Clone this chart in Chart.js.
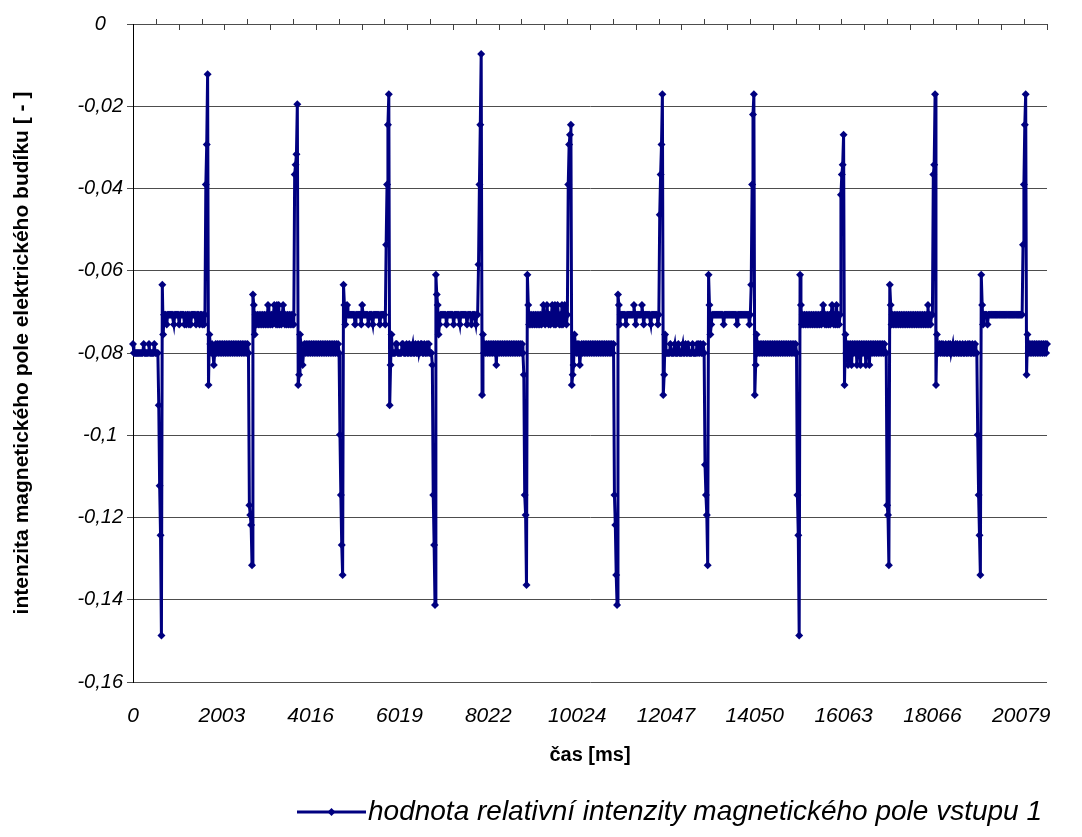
<!DOCTYPE html>
<html>
<head>
<meta charset="utf-8">
<title>Intenzita magnetického pole</title>
<script src="https://cdn.jsdelivr.net/npm/chart.js@4.4.0/dist/chart.umd.min.js"></script>
<style>
  html, body { margin: 0; padding: 0; background: #fff; }
  #wrap { width: 1082px; height: 837px; }
</style>
</head>
<body>
<div id="wrap"><canvas id="magChart"></canvas></div>
<script>
// Popisky osy x (čas v ms), jeden popisek na každých 100 vzorků
const tickLabels = ['0', '2003', '4016', '6019', '8022', '10024', '12047', '14050', '16063', '18066', '20079'];
const LABEL_STEP = 100;

// Popisky osy y
const yTickLabels = ['0', '-0,02', '-0,04', '-0,06', '-0,08', '-0,1', '-0,12', '-0,14', '-0,16'];

const seriesLabel = 'hodnota relativní intenzity magnetického pole vstupu 1';

// Hodnoty relativní intenzity (1030 vzorků)
const intensity = [
  -.0778,-.08,-.08,-.08,-.08,-.08,-.08,-.08,-.08,-.08,
  -.08,-.08,-.0778,-.08,-.08,-.08,-.08,-.08,-.0778,-.08,
  -.08,-.08,-.08,-.08,-.0778,-.08,-.08,-.08,-.08,
  -.0927,-.1123,-.1243,-.1487,-.0634,-.0755,-.0707,
  -.0707,-.0707,-.0731,-.0707,-.0707,-.0707,-.0707,-.0707,-.0707,-.0707,
  -.0731,-.0707,-.0707,-.0707,-.0707,-.0707,-.0731,-.0707,-.0707,-.0707,
  -.0707,-.0707,-.0731,-.0707,-.0731,-.0707,-.0707,-.0731,-.0707,-.0731,
  -.0707,-.0707,-.0707,-.0707,-.0707,-.0731,-.0707,-.0707,-.0707,-.0731,
  -.0707,-.0707,-.0731,-.0707,-.0731,-.0707,
  -.039,-.0293,-.0122,-.0878,-.0755,-.0778,-.08,
  -.0778,-.08,-.0829,-.08,
  -.0778,-.08,-.0778,-.08,-.0778,-.08,-.0778,-.08,-.0778,-.08,
  -.0778,-.08,-.0778,-.08,-.0778,-.08,-.0778,-.08,-.0778,-.08,
  -.0778,-.08,-.0778,-.08,-.0778,-.08,-.0778,-.08,-.0778,-.08,
  -.0778,-.08,-.0778,-.08,-.0778,-.08,-.0778,-.08,
  -.117,-.1194,-.1218,-.1316,-.0658,-.0683,-.0755,
  -.0707,-.0731,-.0707,-.0731,-.0707,-.0731,-.0707,-.0731,-.0707,-.0731,
  -.0707,-.0731,-.0707,-.0731,-.0683,-.0731,-.0707,-.0731,-.0707,-.0731,
  -.0707,-.0683,-.0707,-.0731,-.0683,-.0731,-.0683,-.0731,-.0707,-.0731,
  -.0707,-.0683,-.0707,-.0731,-.0707,-.0731,-.0707,-.0731,-.0707,-.0731,
  -.0707,-.0731,-.0707,-.0731,
  -.0366,-.0342,-.0317,-.0195,-.0878,-.0853,-.0755,-.0778,-.08,-.0829,
  -.08,-.0778,-.08,-.0778,-.08,-.0778,-.08,-.0778,-.08,-.0778,
  -.08,-.0778,-.08,-.0778,-.08,-.0778,-.08,-.0778,-.08,-.0778,
  -.08,-.0778,-.08,-.0778,-.08,-.0778,-.08,-.0778,-.08,-.0778,
  -.08,-.0778,-.08,-.0778,-.08,-.0778,-.08,-.0778,-.08,-.0778,
  -.08,
  -.0999,-.1145,-.1267,-.134,
  -.0634,-.0683,-.0731,-.0707,-.0683,-.0707,-.0707,-.0707,-.0707,-.0707,
  -.0707,-.0707,-.0707,-.0731,-.0707,-.0707,-.0707,-.0707,-.0707,-.0707,
  -.0731,-.0683,-.0707,-.0707,-.0707,-.0707,-.0707,-.0707,-.0731,-.0707,
  -.0707,-.0707,-.0707,-.0731,-.0707,-.0707,-.0707,-.0707,-.0707,-.0707,
  -.0707,-.0731,-.0707,-.0707,-.0707,-.0707,-.0707,-.0731,
  -.0537,-.039,-.0245,-.0171,-.0927,-.0829,-.0755,-.08,
  -.08,-.08,-.08,-.0778,-.0778,-.08,-.08,-.08,-.08,-.08,
  -.0778,-.0778,-.08,-.08,-.08,-.0778,-.08,-.08,-.0778,-.08,
  -.08,-.08,-.0778,-.08,-.08,-.0778,-.08,-.08,-.0778,-.08,
  -.08,-.0778,-.0778,-.08,-.08,-.0778,-.08,-.08,-.0778,-.08,
  -.0778,-.08,-.08,-.08,
  -.0829,-.1145,-.1267,-.1413,-.061,-.0658,-.0683,-.0755,-.0731,-.0707,
  -.0707,-.0707,-.0707,-.0707,-.0707,-.0707,-.0731,-.0707,-.0707,-.0707,
  -.0707,-.0707,-.0707,-.0707,-.0731,-.0707,-.0707,-.0707,-.0707,-.0707,
  -.0707,-.0731,-.0707,-.0707,-.0707,-.0707,-.0707,-.0707,-.0707,-.0731,
  -.0707,-.0707,-.0707,-.0707,-.0731,-.0707,-.0707,-.0707,-.0707,-.0731,
  -.0707,-.0707,
  -.0585,-.039,-.0245,-.0073,-.0902,-.0755,-.08,
  -.0778,-.08,-.0778,-.08,-.0778,-.08,-.0778,-.08,-.0778,-.08,
  -.0778,-.08,-.0778,-.0829,-.0778,-.08,-.0778,-.08,-.0778,-.08,
  -.0778,-.08,-.0778,-.08,-.0778,-.08,-.0778,-.08,-.0778,-.08,
  -.0778,-.08,-.0778,-.08,-.0778,-.08,-.0778,-.08,-.0778,-.08,
  -.0778,-.08,-.0778,-.08,
  -.0853,-.1145,-.1194,-.1364,-.061,-.0683,-.0731,-.0707,
  -.0731,-.0707,-.0731,-.0707,-.0731,-.0707,-.0731,-.0707,-.0731,-.0707,
  -.0731,-.0707,-.0731,-.0707,-.0683,-.0707,-.0731,-.0707,-.0683,-.0707,
  -.0731,-.0707,-.0731,-.0707,-.0683,-.0707,-.0731,-.0683,-.0731,-.0707,
  -.0683,-.0707,-.0731,-.0707,-.0731,-.0683,-.0731,-.0707,-.0683,-.0707,
  -.0731,-.0707,
  -.039,-.0293,-.0269,-.0245,-.0878,-.0853,-.0829,-.0755,-.0778,-.08,
  -.0778,-.08,-.0778,-.0829,
  -.08,-.0778,-.08,-.0778,-.08,-.0778,-.08,-.0778,-.08,-.0778,
  -.08,-.0778,-.08,-.0778,-.08,-.0778,-.08,-.0778,-.08,-.0778,
  -.08,-.0778,-.08,-.0778,-.08,-.0778,-.08,-.0778,-.08,-.0778,
  -.08,-.0778,-.08,-.0778,-.08,-.0778,-.08,-.0778,
  -.1145,-.1218,-.134,-.1413,-.0658,-.0683,-.0731,-.0707,
  -.0707,-.0707,-.0707,-.0707,-.0707,-.0731,-.0707,-.0707,-.0707,-.0707,
  -.0707,-.0707,-.0707,-.0707,-.0683,-.0707,-.0731,-.0707,-.0707,-.0707,
  -.0707,-.0707,-.0707,-.0683,-.0707,-.0731,-.0707,-.0707,-.0707,-.0707,
  -.0707,-.0707,-.0707,-.0731,-.0707,-.0707,-.0707,-.0707,-.0707,-.0707,
  -.0707,-.0731,-.0707,
  -.0464,-.0366,-.0293,-.0171,-.0902,-.0853,-.0755,-.08,
  -.08,-.08,-.08,-.08,-.0778,-.08,-.08,-.08,-.08,-.0778,
  -.08,-.08,-.08,-.0778,-.08,-.08,-.08,-.08,-.0778,-.08,
  -.08,-.0778,-.08,-.08,-.0778,-.08,-.08,-.08,-.08,-.0778,
  -.08,-.08,-.08,-.08,-.0778,-.08,-.0778,-.08,-.0778,-.08,
  -.08,-.0778,-.08,
  -.1072,-.1145,-.1194,-.1316,-.061,-.0683,-.0755,-.0731,-.0707,
  -.0707,-.0707,-.0707,-.0707,-.0707,-.0707,-.0707,-.0707,-.0707,-.0707,
  -.0707,-.0707,-.0731,-.0707,-.0707,-.0707,-.0707,-.0707,-.0707,-.0707,
  -.0707,-.0707,-.0707,-.0707,-.0707,-.0707,-.0707,-.0731,-.0707,-.0707,
  -.0707,-.0707,-.0707,-.0707,-.0707,-.0707,-.0707,-.0707,-.0707,-.0707,
  -.0707,-.0731,-.0707,
  -.0634,-.039,-.022,-.0171,-.0902,-.0829,-.0755,-.08,
  -.0778,-.08,-.0778,-.08,-.0778,-.08,-.0778,-.08,-.0778,-.08,
  -.0778,-.08,-.0778,-.08,-.0778,-.08,-.0778,-.08,-.0778,-.08,
  -.0778,-.08,-.0778,-.08,-.0778,-.08,-.0778,-.08,-.0778,-.08,
  -.0778,-.08,-.0778,-.08,-.0778,-.08,-.0778,-.08,-.0778,-.08,
  -.0778,-.08,-.0778,-.08,
  -.1145,-.1243,-.1487,-.061,-.0683,-.0731,-.0707,
  -.0731,-.0707,-.0731,-.0707,-.0731,-.0707,-.0731,-.0707,-.0731,-.0707,
  -.0731,-.0707,-.0731,-.0707,-.0731,-.0707,-.0731,-.0707,-.0731,-.0707,
  -.0731,-.0707,-.0683,-.0707,-.0731,-.0707,-.0731,-.0707,-.0731,-.0707,
  -.0731,-.0707,-.0683,-.0707,-.0731,-.0707,-.0731,-.0683,-.0731,-.0707,
  -.0731,-.0707,
  -.0415,-.0366,-.0342,-.0269,-.0878,-.0755,-.08,
  -.0778,-.0829,-.0778,-.08,-.0778,-.0829,-.0778,-.08,-.0778,-.08,
  -.0778,-.0829,-.0778,-.08,-.0778,-.0829,-.0778,-.08,-.0778,-.08,
  -.0778,-.0829,-.0778,-.08,-.0778,-.0829,-.0778,-.08,-.0778,-.08,
  -.0778,-.08,-.0778,-.08,-.0778,-.08,-.0778,-.08,-.0778,-.08,
  -.0778,-.08,-.0778,-.08,-.08,
  -.117,-.1194,-.1316,-.0634,-.0683,-.0731,-.0707,
  -.0731,-.0707,-.0731,-.0707,-.0731,-.0707,-.0731,-.0707,-.0731,-.0707,
  -.0731,-.0707,-.0731,-.0707,-.0731,-.0707,-.0731,-.0707,-.0731,-.0707,
  -.0731,-.0707,-.0731,-.0707,-.0731,-.0707,-.0731,-.0707,-.0731,-.0707,
  -.0731,-.0707,-.0731,-.0707,-.0731,-.0707,-.0731,-.0707,-.0731,-.0683,
  -.0731,-.0707,-.0731,-.0707,
  -.0707,-.0366,-.0342,-.0171,-.0878,-.0755,-.08,
  -.08,-.0778,-.08,-.0778,-.08,-.0778,-.08,-.08,-.0778,-.08,
  -.08,-.0778,-.08,-.0778,-.08,-.08,-.0778,-.08,-.08,-.0778,
  -.08,-.0778,-.08,-.08,-.0778,-.08,-.08,-.0778,-.08,-.08,
  -.0778,-.08,-.08,-.0778,-.08,-.0778,-.08,-.08,-.0778,-.08,
  -.08,-.0778,-.08,-.08,
  -.0999,-.1145,-.1243,-.134,-.061,-.0683,-.0731,-.0707,
  -.0707,-.0707,-.0707,-.0731,-.0707,-.0707,-.0707,-.0707,-.0707,-.0707,
  -.0707,-.0707,-.0707,-.0707,-.0707,-.0707,-.0707,-.0707,-.0707,-.0707,
  -.0707,-.0707,-.0707,-.0707,-.0707,-.0707,-.0707,-.0707,-.0707,-.0707,
  -.0707,-.0707,-.0707,-.0707,-.0707,-.0707,-.0707,-.0707,-.0707,-.0707,
  -.0707,-.0707,-.0707,
  -.0537,-.039,-.0245,-.0171,-.0853,-.0755,-.08,
  -.0778,-.08,-.0778,-.08,-.0778,-.08,-.0778,-.08,-.0778,-.08,
  -.0778,-.08,-.0778,-.08,-.0778,-.08,-.0778,-.08,-.0778,-.08,
  -.0778
];

// Kategorie osy x: popisek jen u každého 100. vzorku
const categories = intensity.map((_, i) =>
  i % LABEL_STEP === 0 && tickLabels[i / LABEL_STEP] !== undefined ? tickLabels[i / LABEL_STEP] : ''
);

const FONT = 'Arial, "Liberation Sans", sans-serif';
const NAVY = '#000080';
const TOP_TICK_COUNT = 40;

// Horní osa x s malými značkami (střídavě nahoru a dolů)
const topAxisTicks = {
  id: 'topAxisTicks',
  afterDraw(chart) {
    const { ctx, chartArea: { left, right, top } } = chart;
    ctx.save();
    ctx.strokeStyle = '#404040';
    ctx.lineWidth = 1;
    for (let k = 1; k <= TOP_TICK_COUNT; k++) {
      const x = Math.round(left + (right - left) * k / TOP_TICK_COUNT) + 0.5;
      ctx.beginPath();
      if (k % 2) {
        ctx.moveTo(x, top - 5);
        ctx.lineTo(x, top);
      } else {
        ctx.moveTo(x, top);
        ctx.lineTo(x, top + 6);
      }
      ctx.stroke();
    }
    ctx.restore();
  }
};

// Legenda ve stylu Excelu (čára se značkou)
const LEGEND_X = 297;
const LEGEND_Y = 812;
const LEGEND_LINE = 69;
const excelLegend = {
  id: 'excelLegend',
  afterDraw(chart) {
    const ctx = chart.ctx;
    const ds = chart.data.datasets[0];
    const mid = LEGEND_X + LEGEND_LINE / 2;
    ctx.save();
    ctx.strokeStyle = ds.borderColor;
    ctx.lineWidth = ds.borderWidth;
    ctx.beginPath();
    ctx.moveTo(LEGEND_X, LEGEND_Y);
    ctx.lineTo(LEGEND_X + LEGEND_LINE, LEGEND_Y);
    ctx.stroke();
    const r = ds.pointRadius;
    ctx.fillStyle = ds.pointBackgroundColor;
    ctx.beginPath();
    ctx.moveTo(mid, LEGEND_Y - r);
    ctx.lineTo(mid + r, LEGEND_Y);
    ctx.lineTo(mid, LEGEND_Y + r);
    ctx.lineTo(mid - r, LEGEND_Y);
    ctx.closePath();
    ctx.fill();
    ctx.fillStyle = '#000';
    ctx.font = 'italic 28px ' + FONT;
    ctx.textBaseline = 'middle';
    ctx.textAlign = 'left';
    ctx.fillText(ds.label, LEGEND_X + LEGEND_LINE + 2, LEGEND_Y);
    ctx.restore();
  }
};

const chartElem = document.getElementById('magChart');
if (chartElem) {
  new Chart(chartElem.getContext('2d'), {
    type: 'line',
    data: {
      labels: categories,
      datasets: [{
        label: seriesLabel,
        data: intensity,
        borderColor: NAVY,
        borderWidth: 3,
        pointStyle: 'rectRot',
        pointRadius: 4,
        pointBackgroundColor: NAVY,
        pointBorderColor: NAVY,
        pointBorderWidth: 0,
        tension: 0,
        fill: false
      }]
    },
    options: {
      responsive: true,
      maintainAspectRatio: false,
      animation: false,
      devicePixelRatio: 1,
      layout: { padding: { top: 24, right: 35, left: 0, bottom: 50 } },
      plugins: {
        legend: { display: false },
        tooltip: { enabled: false }
      },
      scales: {
        x: {
          type: 'category',
          offset: false,
          grid: { display: false, drawTicks: false },
          border: { display: false },
          ticks: {
            autoSkip: false,
            maxRotation: 0,
            minRotation: 0,
            padding: 22,
            color: '#000',
            font: { family: FONT, size: 21, style: 'italic' }
          },
          afterBuildTicks: scale => {
            scale.ticks = scale.ticks.filter(t => categories[t.value] !== '');
          },
          afterFit: scale => { scale.height = 105; },
          title: {
            display: true,
            text: 'čas [ms]',
            color: '#000',
            font: { family: FONT, size: 20, weight: 'bold' },
            padding: { top: 0, bottom: 20 }
          }
        },
        y: {
          min: -0.16,
          max: 0,
          grid: { color: '#4d4d4d', lineWidth: 1, tickLength: 6 },
          border: { color: '#000', width: 1 },
          ticks: {
            stepSize: 0.02,
            padding: 4,
            crossAlign: 'center',
            color: '#000',
            font: { family: FONT, size: 20, style: 'italic' },
            callback: value => yTickLabels[Math.round(-value / 0.02)]
          },
          afterFit: scale => { scale.width = 133; },
          title: {
            display: true,
            text: 'intenzita magnetického pole elektrického budíku [ - ]',
            color: '#000',
            font: { family: FONT, size: 21, weight: 'bold' },
            padding: { top: 10, bottom: 0 }
          }
        }
      }
    },
    plugins: [topAxisTicks, excelLegend]
  });
}
</script>
</body>
</html>
